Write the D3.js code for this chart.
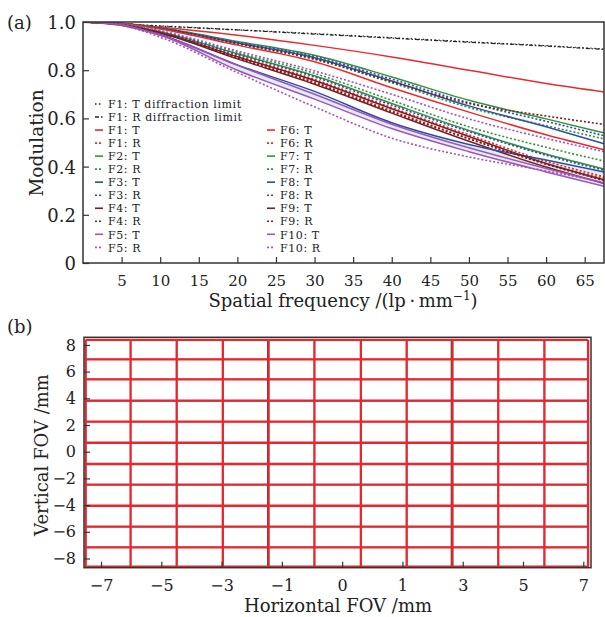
<!DOCTYPE html>
<html>
<head>
<meta charset="utf-8">
<style>
body { margin: 0; background: #fff; }
svg text { font-family: "DejaVu Serif", serif; fill: #222; }
</style>
</head>
<body>
<div id="chart"></div>
<script src="https://d3js.org/d3.v7.min.js"></script>
<script>

// ---- panel (a): MTF curves ----
var freq = [0, 5, 10, 20, 30, 40, 50, 60, 67.5]
var diffT = [1, 0.992, 0.984, 0.968, 0.952, 0.935, 0.918, 0.902, 0.888]
var diffR = [1, 0.991, 0.983, 0.967, 0.950, 0.933, 0.916, 0.900, 0.886]

var fields = ["F1", "F2", "F3", "F4", "F5", "F6", "F7", "F8", "F9", "F10"]

// tangential (solid)
var mtfT = [
  [1, 0.990, 0.978, 0.945, 0.903, 0.855, 0.800, 0.745, 0.710],
  [1, 0.995, 0.976, 0.919, 0.862, 0.772, 0.675, 0.598, 0.540],
  [1, 0.994, 0.974, 0.913, 0.852, 0.755, 0.652, 0.565, 0.495],
  [1, 0.990, 0.954, 0.847, 0.742, 0.622, 0.505, 0.398, 0.330],
  [1, 0.985, 0.945, 0.800, 0.680, 0.558, 0.462, 0.378, 0.318],
  [1, 0.994, 0.971, 0.904, 0.835, 0.727, 0.626, 0.532, 0.470],
  [1, 0.991, 0.960, 0.868, 0.777, 0.662, 0.550, 0.452, 0.390],
  [1, 0.988, 0.948, 0.822, 0.712, 0.582, 0.492, 0.427, 0.378],
  [1, 0.990, 0.957, 0.856, 0.757, 0.640, 0.525, 0.413, 0.345],
  [1, 0.988, 0.946, 0.820, 0.700, 0.576, 0.478, 0.392, 0.332]
]
// radial (dotted)
var mtfR = [
  [1, 0.990, 0.956, 0.853, 0.752, 0.632, 0.517, 0.412, 0.352],
  [1, 0.994, 0.973, 0.909, 0.845, 0.748, 0.645, 0.570, 0.515],
  [1, 0.994, 0.975, 0.916, 0.857, 0.763, 0.665, 0.588, 0.528],
  [1, 0.994, 0.973, 0.910, 0.847, 0.752, 0.662, 0.610, 0.575],
  [1, 0.986, 0.937, 0.790, 0.648, 0.518, 0.440, 0.382, 0.335],
  [1, 0.991, 0.958, 0.859, 0.762, 0.645, 0.532, 0.422, 0.358],
  [1, 0.992, 0.962, 0.874, 0.787, 0.675, 0.565, 0.480, 0.423],
  [1, 0.991, 0.960, 0.865, 0.772, 0.655, 0.545, 0.447, 0.385],
  [1, 0.990, 0.955, 0.850, 0.747, 0.627, 0.515, 0.410, 0.342],
  [1, 0.992, 0.964, 0.880, 0.797, 0.700, 0.598, 0.517, 0.462]
]
var freqTicks = [5, 10, 15, 20, 25, 30, 35, 40, 45, 50, 55, 60, 65]
var modTicks = [0, 0.2, 0.4, 0.6, 0.8, 1.0]

// ---- panel (b): distortion grid ----
var gridX = [-8.51, -7.02, -5.49, -3.96, -2.44, -0.92, 0.62, 2.14, 3.66, 5.18, 6.71, 8.16]
var gridY = [8.37, 6.92, 5.42, 3.82, 2.25, 0.67, -0.92, -2.47, -4.05, -5.62, -7.16, -8.61]
var idealX = [-8.51, -7.02, -5.49, -3.96, -2.47, -0.92, 0.62, 2.14, 3.62, 5.18, 6.71, 8.16]
var idealY = [8.37, 6.92, 5.42, 3.80, 2.25, 0.67, -0.92, -2.47, -4.05, -5.62, -7.16, -8.61]
var hTicks = [-8, -6, -4, -2, 0, 2, 4, 6, 8]
var hTickLabels = ["\u22127", "\u22125", "\u22123", "\u22121", "0", "1", "3", "5", "7"]
var vTicks = [-8, -6, -4, -2, 0, 2, 4, 6, 8]

var colors = ["#ea2a2e", "#34913f", "#2c4fa2", "#7a1e20", "#a454b6"]
var red = "#e8262b"
var frameColor = "#333"

var svg = d3.select("#chart").append("svg")
  .attr("width", 605)
  .attr("height", 617)

// ================= (a) =================
var x = d3.scaleLinear().domain([0, 67.5]).range([83, 604])
var y = d3.scaleLinear().domain([0, 1]).range([263, 22])

svg.append("clipPath").attr("id", "clipA")
  .append("rect").attr("x", 83).attr("y", 22).attr("width", 521).attr("height", 241)

var line = d3.line()
  .x(d => x(d[0]))
  .y(d => y(d[1]))
  .curve(d3.curveMonotoneX)

function pts(arr){ return freq.map((f, i) => [f, arr[i]]) }

var gA = svg.append("g").attr("clip-path", "url(#clipA)")

// light blue band between F8 T and F5 T
var band = d3.area()
  .x(d => x(d[0]))
  .y0(d => y(d[1]))
  .y1(d => y(d[2]))
  .curve(d3.curveMonotoneX)
gA.append("path")
  .attr("d", band(freq.map((f, i) => [f, mtfT[7][i], mtfT[4][i]])))
  .attr("fill", "#d6e9f6")
  .attr("opacity", 0.8)

gA.append("path").attr("d", line(pts(diffT)))
  .attr("fill", "none").attr("stroke", "#222").attr("stroke-width", 1.2)
  .attr("stroke-dasharray", "1.5,2.5")
gA.append("path").attr("d", line(pts(diffR)))
  .attr("fill", "none").attr("stroke", "#222").attr("stroke-width", 1.2)
  .attr("stroke-dasharray", "4,2,1.5,2")

fields.forEach(function(f, i){
  gA.append("path").attr("d", line(pts(mtfT[i])))
    .attr("fill", "none").attr("stroke", colors[i % 5]).attr("stroke-width", 1.5)
  gA.append("path").attr("d", line(pts(mtfR[i])))
    .attr("fill", "none").attr("stroke", colors[i % 5]).attr("stroke-width", 1.6)
    .attr("stroke-dasharray", "2,2")
})

// axes
var xAxisA = svg.append("g")
  .attr("transform", "translate(0,263)")
  .call(d3.axisBottom(x).tickValues(freqTicks).tickSizeInner(-6).tickSizeOuter(0).tickPadding(12))
var yAxisA = svg.append("g")
  .attr("transform", "translate(83,0)")
  .call(d3.axisLeft(y).tickValues(modTicks).tickSizeInner(-6).tickSizeOuter(0).tickPadding(7)
    .tickFormat(d => d === 0 ? "0" : d.toFixed(1)))
xAxisA.selectAll("text").style("font-size", "15px").attr("font-family", null)
yAxisA.selectAll("text").style("font-size", "18px").attr("font-family", null).attr("dy", "0.36em")

svg.append("rect").attr("x", 83).attr("y", 22).attr("width", 521).attr("height", 241)
  .attr("fill", "none").attr("stroke", frameColor).attr("stroke-width", 1.5)

// legend
var legendRows = [
  {label: "F1: T diffraction limit", color: "#222", dash: "1.5,2.5"},
  {label: "F1: R diffraction limit", color: "#222", dash: "4,2,1.5,2"}
]
var legA = svg.append("g")
var rowH = 13.03
function legendItem(lx, ly, label, color, dash){
  legA.append("line")
    .attr("x1", lx).attr("x2", lx + 8).attr("y1", ly).attr("y2", ly)
    .attr("stroke", color).attr("stroke-width", 1.6)
    .attr("stroke-dasharray", dash)
  legA.append("text")
    .attr("x", lx + 13).attr("y", ly + 4.2)
    .style("font-size", "11px")
    .style("letter-spacing", "0.6px")
    .text(label)
}
legendRows.forEach(function(r, i){
  legendItem(95, 104 + i * rowH, r.label, r.color, r.dash)
})
fields.forEach(function(f, i){
  var col = i < 5 ? 0 : 1
  var row = 2 + (i % 5) * 2
  var lx = col === 0 ? 95 : 267
  legendItem(lx, 104 + row * rowH, f + ": T", colors[i % 5], null)
  legendItem(lx, 104 + (row + 1) * rowH, f + ": R", colors[i % 5], "2,2")
})

// titles
var xt = svg.append("text").attr("x", 343).attr("y", 307)
  .attr("text-anchor", "middle").style("font-size", "18px")
xt.append("tspan").text("Spatial frequency /(lp\u2009\u00b7\u2009mm")
xt.append("tspan").attr("dy", -7).style("font-size", "12px").text("\u22121")
xt.append("tspan").attr("dy", 7).text(")")

svg.append("text")
  .attr("transform", "translate(43,143) rotate(-90)")
  .attr("text-anchor", "middle").style("font-size", "18.5px")
  .text("Modulation")

svg.append("text").attr("x", 7).attr("y", 29).style("font-size", "18px").text("(a)")

// ================= (b) =================
var hx = d3.scaleLinear().domain([-8.565, 8.256]).range([84, 591])
var vy = d3.scaleLinear().domain([-8.69, 8.57]).range([567.7, 337.3])

var gB = svg.append("g")

// ideal grid (black, thin)
gB.selectAll(".ivx").data(idealX).enter().append("line")
  .attr("x1", d => hx(d)).attr("x2", d => hx(d))
  .attr("y1", vy(idealY[0])).attr("y2", vy(idealY[idealY.length - 1]))
  .attr("stroke", "#222").attr("stroke-width", 1.1)
gB.selectAll(".ihy").data(idealY).enter().append("line")
  .attr("y1", d => vy(d)).attr("y2", d => vy(d))
  .attr("x1", hx(idealX[0])).attr("x2", hx(idealX[idealX.length - 1]))
  .attr("stroke", "#222").attr("stroke-width", 1.1)

// real grid (red)
gB.selectAll(".rvx").data(gridX).enter().append("line")
  .attr("x1", d => hx(d)).attr("x2", d => hx(d))
  .attr("y1", vy(gridY[0])).attr("y2", vy(gridY[gridY.length - 1]))
  .attr("stroke", red).attr("stroke-width", 2.3)
gB.selectAll(".rhy").data(gridY).enter().append("line")
  .attr("y1", d => vy(d)).attr("y2", d => vy(d))
  .attr("x1", hx(gridX[0])).attr("x2", hx(gridX[gridX.length - 1]))
  .attr("stroke", red).attr("stroke-width", 2.3)

var xAxisB = svg.append("g")
  .attr("transform", "translate(0,567.7)")
  .call(d3.axisBottom(hx).tickValues(hTicks).tickSizeInner(-6).tickSizeOuter(0).tickPadding(12)
    .tickFormat((d, i) => hTickLabels[i]))
var yAxisB = svg.append("g")
  .attr("transform", "translate(84,0)")
  .call(d3.axisLeft(vy).tickValues(vTicks).tickSizeInner(-6).tickSizeOuter(0).tickPadding(8)
    .tickFormat(d => d < 0 ? "\u2212" + (-d) : d))
xAxisB.selectAll("text").style("font-size", "16px").attr("font-family", null)
yAxisB.selectAll("text").style("font-size", "16px").attr("font-family", null)

svg.selectAll(".domain").remove()
svg.selectAll(".tick line").attr("stroke", frameColor).attr("stroke-width", 1.2)

svg.append("rect").attr("x", 84).attr("y", 337.3).attr("width", 507).attr("height", 230.4)
  .attr("fill", "none").attr("stroke", frameColor).attr("stroke-width", 1.5)

svg.append("text").attr("x", 338).attr("y", 612)
  .attr("text-anchor", "middle").style("font-size", "18px")
  .text("Horizontal FOV /mm")

svg.append("text")
  .attr("transform", "translate(48,455) rotate(-90)")
  .attr("text-anchor", "middle").style("font-size", "18px")
  .text("Vertical FOV /mm")

svg.append("text").attr("x", 7).attr("y", 333).style("font-size", "18px").text("(b)")

</script>
</body>
</html>
